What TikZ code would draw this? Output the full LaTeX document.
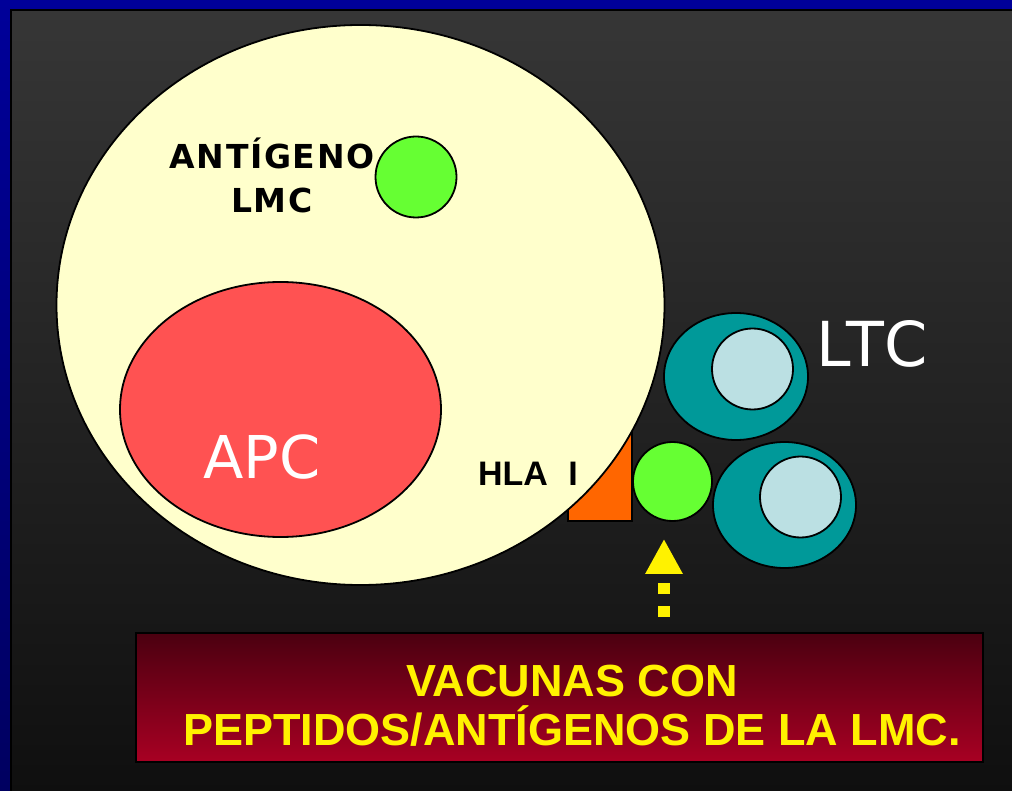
\documentclass[tikz,border=0pt]{standalone}
\usepackage{fontspec}
\setmainfont{DejaVu Sans}
\newfontfamily\boxfont{Liberation Sans}
\usetikzlibrary{arrows.meta, shapes.geometric}

\definecolor{frameblue}{RGB}{0,0,153}
\definecolor{framebluedark}{RGB}{0,0,96}
\definecolor{bgtop}{RGB}{54,54,54}
\definecolor{bgbottom}{RGB}{15,15,15}
\definecolor{cellyellow}{RGB}{255,255,204}
\definecolor{apcred}{RGB}{255,82,82}
\definecolor{pepgreen}{RGB}{102,255,51}
\definecolor{hlaorange}{RGB}{255,102,0}
\definecolor{ltcteal}{RGB}{0,153,153}
\definecolor{ltcnucleus}{RGB}{187,224,227}
\definecolor{boxtop}{RGB}{75,0,16}
\definecolor{boxbottom}{RGB}{168,0,35}

\begin{document}
\begin{tikzpicture}[x=1pt, y=-1pt,
  cell/.style={ellipse, draw=black, line width=1.8pt, inner sep=0pt},
  blob/.style={circle, draw=black, line width=1.8pt, inner sep=0pt, minimum size=#1},
  vacarrow/.style={draw=yellow, line width=12pt, dash pattern=on 11pt off 12pt,
    -{Triangle[width=35pt, length=35pt, fill=yellow]}},
  bigword/.style={text=white, inner sep=0pt, anchor=base}
]
\useasboundingbox (0,0) rectangle (1012,791);

% frame and slide background
\shade[top color=frameblue, bottom color=framebluedark] (0,0) rectangle (1012,791);
\shade[top color=bgtop, bottom color=bgbottom, draw=black, line width=2pt]
  (11,10) rectangle (1015,795);

% HLA I molecule, half hidden behind the APC
\node[rectangle, draw=black, line width=1.8pt, fill=hlaorange, inner sep=0pt,
  minimum width=64pt, minimum height=90pt] (hla) at (600,476) {};

% antigen presenting cell
\node[cell, fill=cellyellow, minimum width=608pt, minimum height=560pt] (apc) at (360.5,305) {};
\node[cell, fill=apcred, minimum width=321pt, minimum height=255pt] (nucleus) at (280.5,409.5) {};
\node[bigword, font=\fontsize{59}{59}\selectfont] (apclabel) at (262,478) {APC};

\node[font=\bfseries\addfontfeature{LetterSpace=5}\fontsize{33}{44}\selectfont, align=center,
  inner sep=0pt] (antlabel) at (272,175) {ANTÍGENO\\LMC};
\node[blob=81pt, fill=pepgreen] (antigen) at (416,177) {};

\node[font=\boxfont\bfseries\fontsize{34}{34}\selectfont, inner sep=0pt, anchor=base]
  (hlalabel) at (528,485) {HLA\hspace{0.6em}I};
\node[blob=79pt, fill=pepgreen] (peptide) at (672.5,481.5) {};

% cytotoxic T cells
\node[cell, fill=ltcteal, minimum width=144pt, minimum height=127pt] (ltca) at (736,376.5) {};
\node[blob=81pt, fill=ltcnucleus] (ltcanuc) at (752.5,369) {};
\node[cell, fill=ltcteal, minimum width=143pt, minimum height=126pt] (ltcb) at (784.5,505) {};
\node[blob=81pt, fill=ltcnucleus] (ltcbnuc) at (800.5,497) {};
\node[bigword, font=\addfontfeature{LetterSpace=6}\fontsize{62}{62}\selectfont] (ltclabel) at (872,367) {LTC};

% vaccine box and its arrow
\coordinate (vacstart) at (664,617);
\draw[vacarrow, shorten >=17pt] (vacstart) -- (vacstart |- peptide.south);

\node[rectangle, draw=black, line width=2.5pt, top color=boxtop, bottom color=boxbottom,
  minimum width=847pt, minimum height=129pt, inner sep=0pt] (vac) at (559.5,697.5) {};
\node[font=\boxfont\bfseries\fontsize{45}{49}\selectfont, text=yellow, align=center, inner sep=0pt]
  (vactext) at (572,706) {VACUNAS CON\\PEPTIDOS/ANTÍGENOS DE LA LMC.};

\end{tikzpicture}
\end{document}
